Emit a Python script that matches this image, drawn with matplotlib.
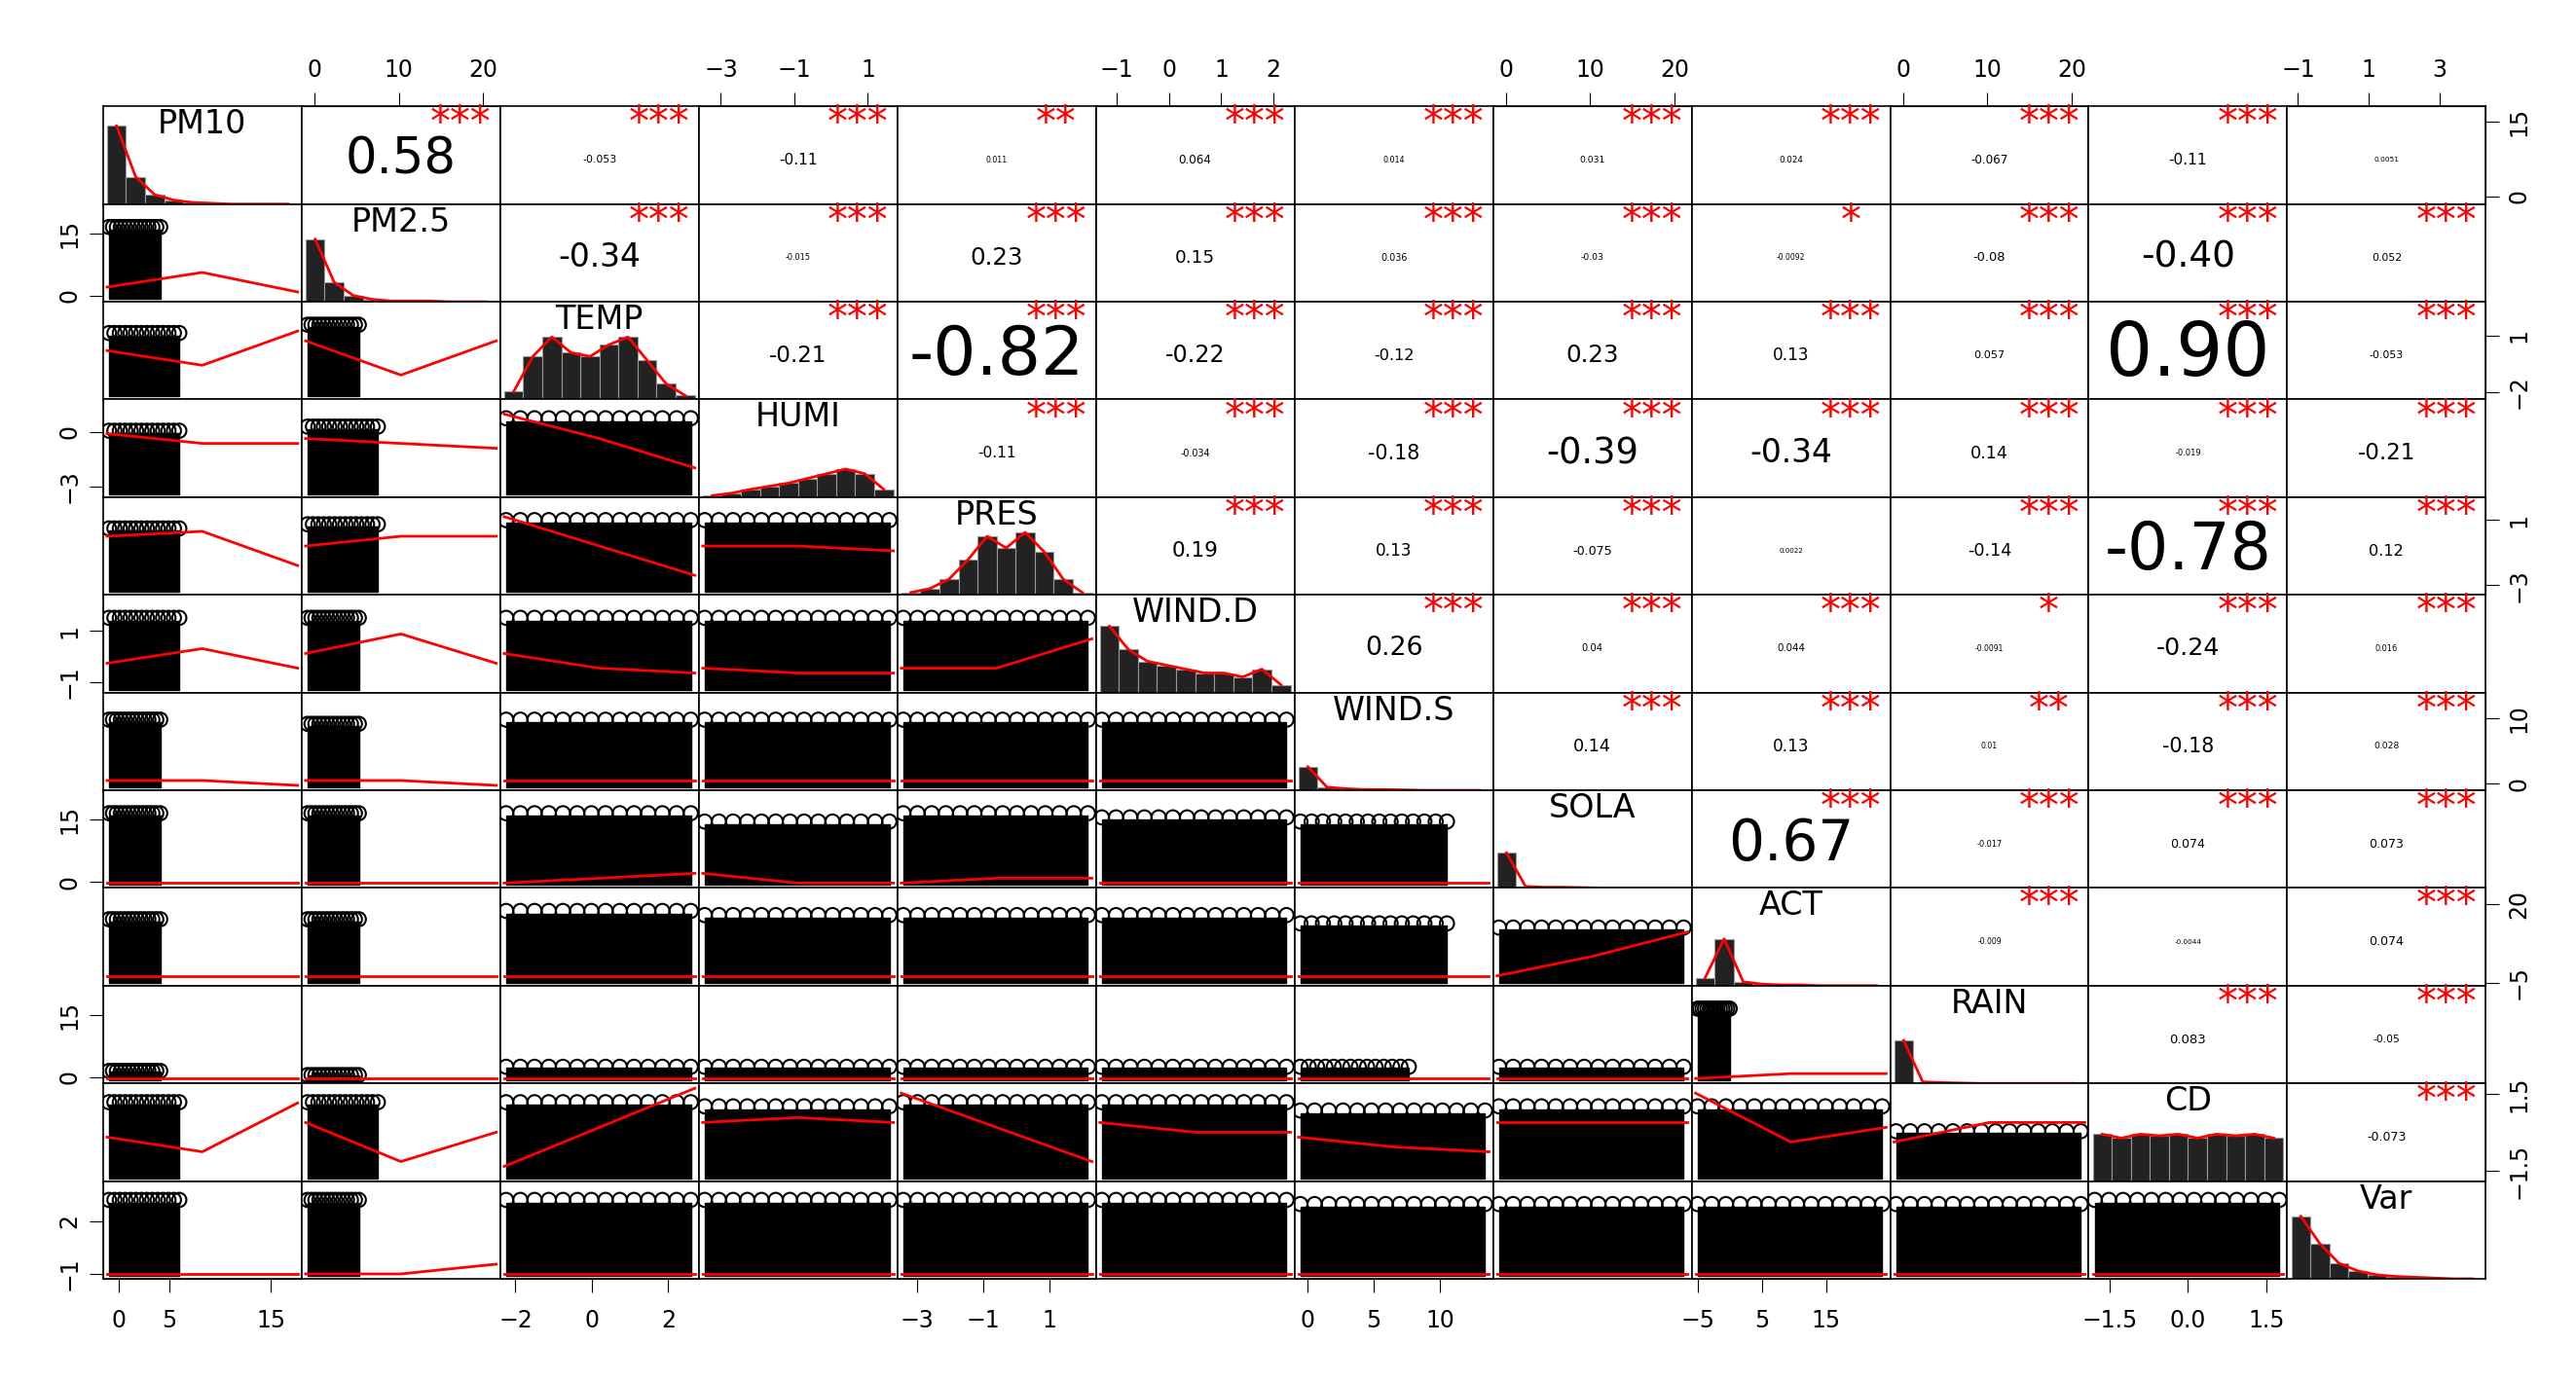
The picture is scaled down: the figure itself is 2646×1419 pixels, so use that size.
import numpy as np
import matplotlib.pyplot as plt

names = ["PM10", "PM2.5", "TEMP", "HUMI", "PRES", "WIND.D", "WIND.S", "SOLA", "ACT", "RAIN", "CD", "Var"]
lims = [(-1.5, 18), (-1.5, 22), (-2.4, 2.8), (-3.6, 1.8), (-3.6, 2.4), (-1.4, 2.4),
        (-1, 14), (-1.5, 22), (-6, 25), (-1.5, 22), (-1.9, 1.9), (-1.3, 4.3)]
ticks = [[0, 5, 15], [0, 10, 20], [-2, 0, 2], [-3, -1, 1], [-3, -1, 1], [-1, 0, 1, 2],
         [0, 5, 10], [0, 10, 20], [-5, 5, 15], [0, 10, 20], [-1.5, 0.0, 1.5], [-1, 1, 3]]
vticks = [[0, 15], [0, 15], [-2, 1], [-3, 0], [-3, 1], [-1, 1],
          [0, 10], [0, 15], [-5, 20], [0, 15], [-1.5, 1.5], [-1, 2]]

# upper triangle correlations, row by row
corr = [
    [0.58, -0.053, -0.11, 0.011, 0.064, 0.014, 0.031, 0.024, -0.067, -0.11, 0.0051],
    [-0.34, -0.015, 0.23, 0.15, 0.036, -0.03, -0.0092, -0.08, -0.40, 0.052],
    [-0.21, -0.82, -0.22, -0.12, 0.23, 0.13, 0.057, 0.90, -0.053],
    [-0.11, -0.034, -0.18, -0.39, -0.34, 0.14, -0.019, -0.21],
    [0.19, 0.13, -0.075, 0.0022, -0.14, -0.78, 0.12],
    [0.26, 0.04, 0.044, -0.0091, -0.24, 0.016],
    [0.14, 0.13, 0.01, -0.18, 0.028],
    [0.67, -0.017, 0.074, 0.073],
    [-0.009, -0.0044, 0.074],
    [0.083, -0.05],
    [-0.073],
]
stars = [
    ["***", "***", "***", "**", "***", "***", "***", "***", "***", "***", ""],
    ["***", "***", "***", "***", "***", "***", "*", "***", "***", "***"],
    ["***", "***", "***", "***", "***", "***", "***", "***", "***"],
    ["***", "***", "***", "***", "***", "***", "***", "***"],
    ["***", "***", "***", "", "***", "***", "***"],
    ["***", "***", "***", "*", "***", "***"],
    ["***", "***", "**", "***", "***"],
    ["***", "***", "***", "***"],
    ["***", "", "***"],
    ["***", "***"],
    ["***"],
]

# lower panels: (cloud width, cloud top, red line left/mid/right) as panel fractions
lower = [
    [(0.3, 0.9, 0.15, 0.3, 0.1)],
    [(0.4, 0.8, 0.5, 0.35, 0.7), (0.3, 0.9, 0.6, 0.25, 0.6)],
    [(0.4, 0.8, 0.65, 0.55, 0.55), (0.4, 0.85, 0.6, 0.55, 0.5), (1, 0.95, 0.85, 0.6, 0.3)],
    [(0.4, 0.8, 0.6, 0.65, 0.3), (0.4, 0.85, 0.5, 0.6, 0.6), (1, 0.9, 0.8, 0.5, 0.2), (1, 0.9, 0.5, 0.5, 0.45)],
    [(0.4, 0.9, 0.3, 0.45, 0.25), (0.3, 0.9, 0.4, 0.6, 0.3), (1, 0.9, 0.4, 0.25, 0.2), (1, 0.9, 0.25, 0.2, 0.2),
     (1, 0.9, 0.25, 0.25, 0.55)],
    [(0.3, 0.85, 0.1, 0.1, 0.05), (0.3, 0.8, 0.1, 0.1, 0.05), (1, 0.85, 0.1, 0.1, 0.1), (1, 0.85, 0.1, 0.1, 0.1),
     (1, 0.85, 0.1, 0.1, 0.1), (1, 0.85, 0.1, 0.1, 0.1)],
    [(0.3, 0.9, 0.05, 0.05, 0.05), (0.3, 0.9, 0.05, 0.05, 0.05), (1, 0.9, 0.05, 0.1, 0.15), (1, 0.8, 0.15, 0.05, 0.05),
     (1, 0.9, 0.05, 0.1, 0.1), (1, 0.85, 0.05, 0.05, 0.05), (0.8, 0.8, 0.05, 0.05, 0.05)],
    [(0.3, 0.8, 0.1, 0.1, 0.1), (0.3, 0.8, 0.1, 0.1, 0.1), (1, 0.9, 0.1, 0.1, 0.1), (1, 0.85, 0.1, 0.1, 0.1),
     (1, 0.85, 0.1, 0.1, 0.1), (1, 0.85, 0.1, 0.1, 0.1), (0.8, 0.75, 0.1, 0.1, 0.1), (1, 0.7, 0.1, 0.3, 0.55)],
    [(0.3, 0.15, 0.05, 0.05, 0.05), (0.3, 0.1, 0.05, 0.05, 0.05), (1, 0.2, 0.05, 0.05, 0.05), (1, 0.2, 0.05, 0.05, 0.05),
     (1, 0.2, 0.05, 0.05, 0.05), (1, 0.2, 0.05, 0.05, 0.05), (0.6, 0.2, 0.05, 0.05, 0.05), (1, 0.2, 0.05, 0.05, 0.05),
     (0.2, 0.9, 0.05, 0.1, 0.1)],
    [(0.4, 0.95, 0.45, 0.3, 0.8), (0.4, 0.95, 0.6, 0.2, 0.5), (1, 0.95, 0.15, 0.55, 0.95), (1, 0.9, 0.6, 0.65, 0.6),
     (1, 0.95, 0.9, 0.55, 0.2), (1, 0.95, 0.6, 0.5, 0.5), (1, 0.85, 0.45, 0.35, 0.3), (1, 0.9, 0.6, 0.6, 0.6),
     (1, 0.9, 0.9, 0.4, 0.55), (1, 0.6, 0.4, 0.6, 0.6)],
    [(0.4, 0.95, 0.05, 0.05, 0.05), (0.3, 0.95, 0.05, 0.05, 0.15), (1, 0.95, 0.05, 0.05, 0.05), (1, 0.95, 0.05, 0.05, 0.05),
     (1, 0.95, 0.05, 0.05, 0.05), (1, 0.95, 0.05, 0.05, 0.05), (1, 0.9, 0.05, 0.05, 0.05), (1, 0.9, 0.05, 0.05, 0.05),
     (1, 0.9, 0.05, 0.05, 0.05), (1, 0.9, 0.05, 0.05, 0.05), (1, 0.95, 0.05, 0.05, 0.05)],
]

hists = [
    [1, 0.35, 0.12, 0.05, 0.02, 0.01, 0, 0, 0, 0],
    [0.8, 0.25, 0.08, 0.03, 0.01, 0.01, 0.01, 0, 0, 0],
    [0.1, 0.55, 0.8, 0.6, 0.55, 0.7, 0.8, 0.5, 0.2, 0.05],
    [0.02, 0.05, 0.1, 0.14, 0.18, 0.24, 0.3, 0.36, 0.3, 0.1],
    [0.03, 0.08, 0.2, 0.45, 0.75, 0.6, 0.8, 0.55, 0.2, 0.03],
    [0.85, 0.55, 0.4, 0.35, 0.3, 0.25, 0.25, 0.2, 0.3, 0.1],
    [0.3, 0.04, 0.02, 0.01, 0.01, 0.005, 0, 0, 0, 0],
    [0.45, 0.02, 0.01, 0.01, 0.005, 0, 0, 0, 0, 0],
    [0.1, 0.6, 0.05, 0.02, 0.01, 0.01, 0, 0, 0, 0],
    [0.55, 0.02, 0.01, 0.005, 0, 0, 0, 0, 0, 0],
    [0.6, 0.55, 0.6, 0.58, 0.6, 0.55, 0.6, 0.58, 0.6, 0.55],
    [0.8, 0.45, 0.2, 0.1, 0.05, 0.03, 0.02, 0.01, 0, 0],
]

n = len(names)
fig, axes = plt.subplots(n, n, figsize=(26.46, 14.19), dpi=100)
fig.subplots_adjust(left=0.04, right=0.965, top=0.923, bottom=0.074, wspace=0, hspace=0)
fig.patch.set_facecolor("white")

for i in range(n):
    for j in range(n):
        ax = axes[i, j]
        ax.set_xticks([]); ax.set_yticks([])
        for s in ax.spines.values():
            s.set_linewidth(1.2)
        if i == j:
            ax.set_xlim(0, 1); ax.set_ylim(0, 1.25)
            h = np.array(hists[i])
            edges = np.linspace(0.02, 0.98, len(h) + 1)
            ax.bar(edges[:-1], h, width=edges[1] - edges[0], align="edge",
                   color="#222222", edgecolor="#999999", linewidth=0.8)
            ax.plot((edges[:-1] + edges[1:]) / 2, h, color="red", lw=2)
            ax.text(0.5, 1.02, names[i], ha="center", va="center", fontsize=24)
        elif j > i:
            ax.set_xlim(0, 1); ax.set_ylim(0, 1)
            r = corr[i][j - i - 1]
            txt = f"{r:.2g}" if abs(r) < 0.1 else f"{r:.2f}"
            ax.text(0.5, 0.45, txt, ha="center", va="center", fontsize=5 + 55 * abs(r))
            ax.text(0.8, 0.82, stars[i][j - i - 1], ha="center", va="center",
                    fontsize=30, color="red")
        else:
            ax.set_xlim(0, 1); ax.set_ylim(0, 1)
            w, top, r0, r1, r2 = lower[i - 1][j]
            xs = np.linspace(0.03, w * 0.96, 14)
            ax.fill_between(xs, 0.03, top * 0.82, color="black")
            ax.scatter(xs, np.full_like(xs, top * 0.85), s=110, facecolors="none",
                       edgecolors="black", linewidths=1.5)
            ax.plot([0.02, 0.5, 0.98], [r0, r1, r2], color="red", lw=2)

        # ticks on outer edges, alternating as in R pairs
        xr = lims[j]; yr = lims[i]
        if i == 0 and j % 2 == 1:
            sec = ax.secondary_xaxis("top", functions=(lambda v, a=xr: a[0] + v * (a[1] - a[0]),
                                                       lambda v, a=xr: (v - a[0]) / (a[1] - a[0])))
            sec.set_xticks(ticks[j]); sec.tick_params(labelsize=17, length=10, pad=8)
        if i == n - 1 and j % 2 == 0:
            sec = ax.secondary_xaxis("bottom", functions=(lambda v, a=xr: a[0] + v * (a[1] - a[0]),
                                                          lambda v, a=xr: (v - a[0]) / (a[1] - a[0])))
            sec.set_xticks(ticks[j]); sec.tick_params(labelsize=17, length=10, pad=12)
        ylo, yhi = ax.get_ylim()
        f = (lambda v, a=yr, lo=ylo, hi=yhi: a[0] + (v - lo) / (hi - lo) * (a[1] - a[0]))
        g = (lambda v, a=yr, lo=ylo, hi=yhi: lo + (v - a[0]) / (a[1] - a[0]) * (hi - lo))
        if j == 0 and i % 2 == 1:
            sec = ax.secondary_yaxis("left", functions=(f, g))
            sec.set_yticks(vticks[i]); sec.tick_params(labelsize=17, length=10, pad=6)
            for t in sec.get_yticklabels():
                t.set_rotation(90); t.set_va("center")
        if j == n - 1 and i % 2 == 0:
            sec = ax.secondary_yaxis("right", functions=(f, g))
            sec.set_yticks(vticks[i]); sec.tick_params(labelsize=17, length=10, pad=6)
            for t in sec.get_yticklabels():
                t.set_rotation(90); t.set_va("center")

fig.savefig("out.png", dpi=100)
